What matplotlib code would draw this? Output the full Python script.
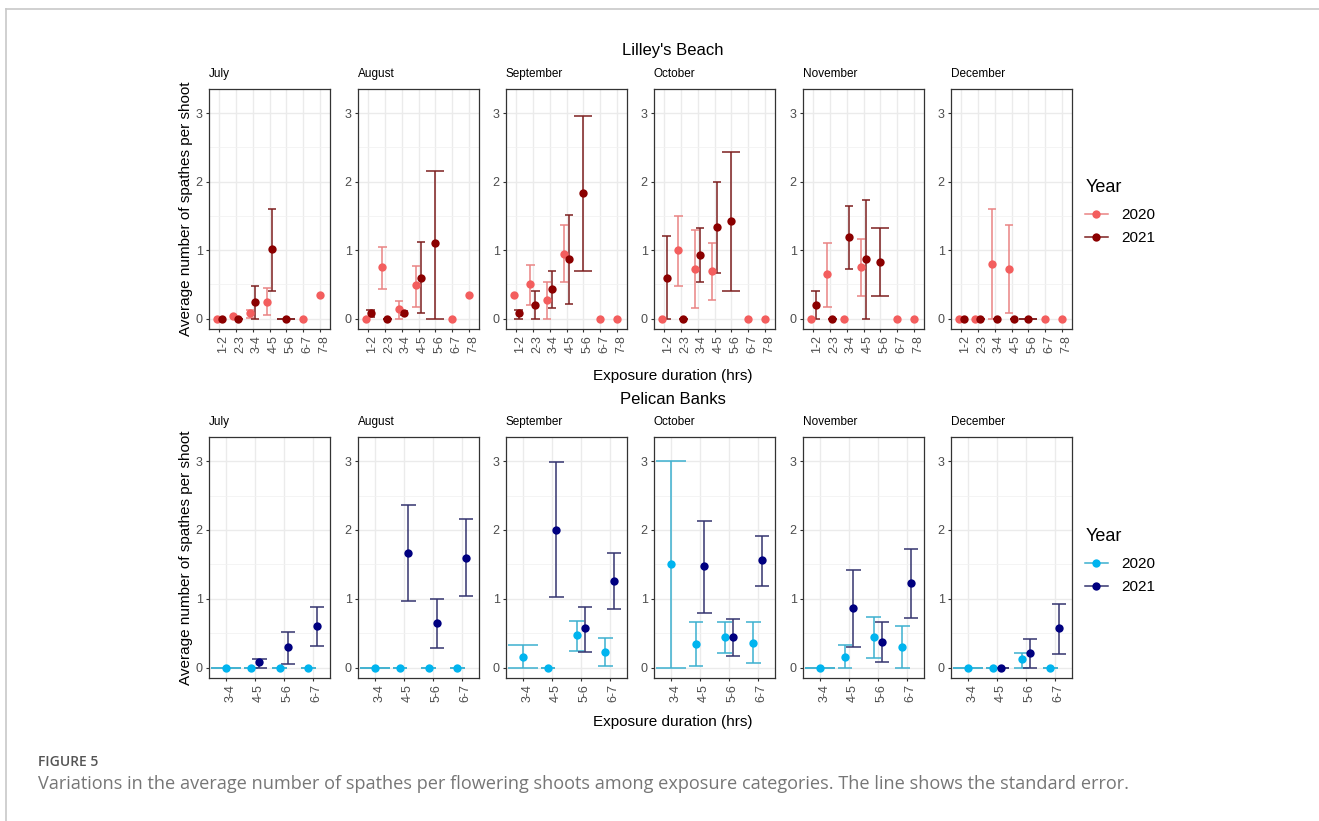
import numpy as np
import matplotlib
matplotlib.use('Agg')
import matplotlib.pyplot as plt
from matplotlib.lines import Line2D
from matplotlib.transforms import ScaledTranslation

nan = np.nan

months = ['July', 'August', 'September', 'October', 'November', 'December']
lb_cats = ['1-2', '2-3', '3-4', '4-5', '5-6', '6-7', '7-8']
pb_cats = ['3-4', '4-5', '5-6', '6-7']
years = ['2020', '2021']

# Lilley's Beach, one row per month
lb20_mean = [[0, 0.04, 0.08, 0.25, nan, 0, 0.34],
             [0, 0.75, 0.14, 0.49, nan, 0, 0.34],
             [0.34, 0.50, 0.27, 0.95, nan, 0, 0],
             [0, 1.00, 0.73, 0.70, nan, 0, 0],
             [0, 0.65, 0, 0.76, nan, 0, 0],
             [0, 0, 0.80, 0.73, nan, 0, 0]]
lb20_lo = [[nan, nan, 0.01, 0.06, nan, nan, nan],
           [nan, 0.44, 0.0, 0.17, nan, nan, nan],
           [nan, 0.20, 0.0, 0.53, nan, nan, nan],
           [nan, 0.48, 0.16, 0.28, nan, nan, nan],
           [nan, 0.17, nan, 0.33, nan, nan, nan],
           [nan, nan, 0.0, 0.09, nan, nan, nan]]
lb20_hi = [[nan, nan, 0.12, 0.45, nan, nan, nan],
           [nan, 1.04, 0.26, 0.77, nan, nan, nan],
           [nan, 0.78, 0.53, 1.36, nan, nan, nan],
           [nan, 1.50, 1.30, 1.10, nan, nan, nan],
           [nan, 1.10, nan, 1.16, nan, nan, nan],
           [nan, nan, 1.60, 1.36, nan, nan, nan]]
lb21_mean = [[0, 0, 0.24, 1.01, 0, nan, nan],
             [0.08, 0, 0.08, 0.60, 1.10, nan, nan],
             [0.08, 0.20, 0.44, 0.87, 1.83, nan, nan],
             [0.60, 0, 0.93, 1.34, 1.42, nan, nan],
             [0.20, 0, 1.19, 0.87, 0.83, nan, nan],
             [0, 0, 0, 0, 0, nan, nan]]
lb21_lo = [[0, 0, 0, 0.40, 0, nan, nan],
           [0.03, 0, 0.05, 0.08, 0, nan, nan],
           [0, 0, 0.16, 0.22, 0.70, nan, nan],
           [0, 0, 0.54, 0.66, 0.40, nan, nan],
           [0, 0, 0.72, 0, 0.33, nan, nan],
           [0, 0, 0, 0, 0, nan, nan]]
lb21_hi = [[0, 0, 0.48, 1.60, 0, nan, nan],
           [0.13, 0, 0.11, 1.12, 2.16, nan, nan],
           [0.12, 0.40, 0.70, 1.51, 2.95, nan, nan],
           [1.20, 0, 1.32, 2.00, 2.43, nan, nan],
           [0.41, 0, 1.65, 1.73, 1.33, nan, nan],
           [0, 0, 0, 0, 0, nan, nan]]

# Pelican Banks
pb20_mean = [[0, 0, 0, 0],
             [0, 0, 0, 0],
             [0.16, 0, 0.47, 0.23],
             [1.50, 0.34, 0.45, 0.36],
             [0, 0.16, 0.45, 0.30],
             [0, 0, 0.12, 0]]
pb20_lo = [[0, 0, 0, 0],
           [0, 0, 0, 0],
           [0, 0, 0.24, 0.03],
           [0, 0.02, 0.22, 0.07],
           [0, 0, 0.14, 0],
           [0, 0, 0, 0]]
pb20_hi = [[0, 0, 0, 0],
           [0, 0, 0, 0],
           [0.33, 0, 0.68, 0.43],
           [3.00, 0.66, 0.67, 0.66],
           [0, 0.33, 0.74, 0.60],
           [0, 0, 0.22, 0]]
pb21_mean = [[nan, 0.08, 0.30, 0.60],
             [nan, 1.67, 0.65, 1.60],
             [nan, 2.00, 0.57, 1.26],
             [nan, 1.47, 0.44, 1.56],
             [nan, 0.87, 0.38, 1.23],
             [nan, 0, 0.21, 0.57]]
pb21_lo = [[nan, 0, 0.06, 0.31],
           [nan, 0.97, 0.29, 1.04],
           [nan, 1.02, 0.23, 0.85],
           [nan, 0.80, 0.17, 1.19],
           [nan, 0.30, 0.08, 0.72],
           [nan, 0, 0, 0.20]]
pb21_hi = [[nan, 0.13, 0.52, 0.88],
           [nan, 2.36, 1.00, 2.16],
           [nan, 2.98, 0.88, 1.66],
           [nan, 2.13, 0.70, 1.91],
           [nan, 1.42, 0.66, 1.73],
           [nan, 0, 0.42, 0.93]]

lb_pt = ['#F35E5E', '#8B0000']
lb_err = ['#E98484', '#7D1F1F']
pb_pt = ['#00B4EF', '#000080']
pb_err = ['#3CB0CF', '#34346F']

plt.rcParams['font.family'] = ['Liberation Sans', 'DejaVu Sans']

W, H = 1319, 821
fig = plt.figure(figsize=(W / 100, H / 100), dpi=100)

# light frame of the page
fig.add_artist(Line2D([6 / W, 1], [1 - 9 / H, 1 - 9 / H], color='#C8C8C8', lw=1.2))
fig.add_artist(Line2D([6 / W, 6 / W], [0, 1 - 9 / H], color='#C8C8C8', lw=1.2))

lefts = [209, 358, 506, 654, 803, 951]
pw = 121


def draw_panel(ax, cats, means, los, his, pt_cols, err_cols):
    n = len(cats)
    xs = np.arange(1, n + 1)
    for i in range(n):
        present = [not np.isnan(m[i]) for m in means]
        both = all(present)
        for g in range(2):
            if not present[g]:
                continue
            off = (-0.15 if g == 0 else 0.15) if both else 0.0
            cw = 0.5 if both else 1.05
            x = xs[i] + off
            if not np.isnan(los[g][i]):
                ax.vlines(x, los[g][i], his[g][i], color=err_cols[g], lw=1.1, zorder=3 + g)
                ax.hlines([los[g][i], his[g][i]], x - cw / 2, x + cw / 2,
                          color=err_cols[g], lw=1.1, zorder=3 + g)
            ax.plot(x, means[g][i], 'o', color=pt_cols[g], ms=6, mec='none', zorder=5 + g)
    ax.set_xlim(0.4, n + 0.6)
    ax.set_ylim(-0.15, 3.35)
    ax.set_xticks(xs)
    ax.set_xticklabels(cats, rotation=90, va='top', ha='center')
    ax.set_yticks([0, 1, 2, 3])
    ax.set_yticks([0.5, 1.5, 2.5], minor=True)
    ax.grid(which='major', color='#EBEBEB', lw=1.0)
    ax.grid(which='minor', axis='y', color='#F2F2F2', lw=0.6)
    ax.set_axisbelow(True)
    ax.tick_params(which='major', length=2.5, width=0.8, color='#333333',
                   labelsize=9, labelcolor='#4D4D4D', pad=2)
    ax.tick_params(which='minor', length=0)
    for lab in ax.get_xticklabels():
        lab.set_transform(lab.get_transform() + ScaledTranslation(4 / 100, 0, fig.dpi_scale_trans))
    for s in ax.spines.values():
        s.set_color('#333333')
        s.set_linewidth(0.9)


rows = [
    (89, 329, lb_cats, [lb20_mean, lb21_mean], [lb20_lo, lb21_lo], [lb20_hi, lb21_hi],
     lb_pt, lb_err, "Lilley's Beach", 49, 376, 184),
    (437, 678, pb_cats, [pb20_mean, pb21_mean], [pb20_lo, pb21_lo], [pb20_hi, pb21_hi],
     pb_pt, pb_err, 'Pelican Banks', 398, 722, 533),
]

for top, bot, cats, means, los, his, pcol, ecol, title, ty, xly, legy in rows:
    for k, month in enumerate(months):
        ax = fig.add_axes([lefts[k] / W, 1 - bot / H, pw / W, (bot - top) / H])
        draw_panel(ax, cats,
                   [means[0][k], means[1][k]], [los[0][k], los[1][k]], [his[0][k], his[1][k]],
                   pcol, ecol)
        fig.text(lefts[k] / W, 1 - (top - 15) / H, month, fontsize=8.5, ha='left', va='center')
    fig.text(673 / W, 1 - (ty + 1) / H, title, fontsize=12, ha='center', va='center')
    fig.text(673 / W, 1 - xly / H, 'Exposure duration (hrs)', fontsize=11, ha='center', va='center')
    fig.text(186 / W, 1 - (top + bot) / 2 / H, 'Average number of spathes per shoot',
             fontsize=11, rotation=90, ha='center', va='center')
    # legend: title and entries placed separately
    fig.text(1086 / W, 1 - (legy + 3) / H, 'Year', fontsize=13, ha='left', va='center')
    handles = [Line2D([], [], color=ecol[g], lw=1.1, marker='o', ms=6,
                      markerfacecolor=pcol[g], markeredgecolor='none') for g in range(2)]
    fig.legend(handles, years, loc='upper left',
               bbox_to_anchor=(1085 / W, 1 - (legy + 24) / H), frameon=False,
               fontsize=11, handlelength=1.5, handletextpad=0.9,
               labelspacing=0.62, borderpad=0, borderaxespad=0)

fig.text(38 / W, 1 - 762 / H, 'FIGURE 5', fontsize=10, color='#555555', fontweight='semibold',
         family='Open Sans', ha='left', va='center')
fig.text(38 / W, 1 - 784 / H,
         'Variations in the average number of spathes per flowering shoots among exposure categories. '
         'The line shows the standard error.',
         fontsize=13.1, color='#767676', family='Open Sans', ha='left', va='center')

fig.savefig('out.png', dpi=100)
